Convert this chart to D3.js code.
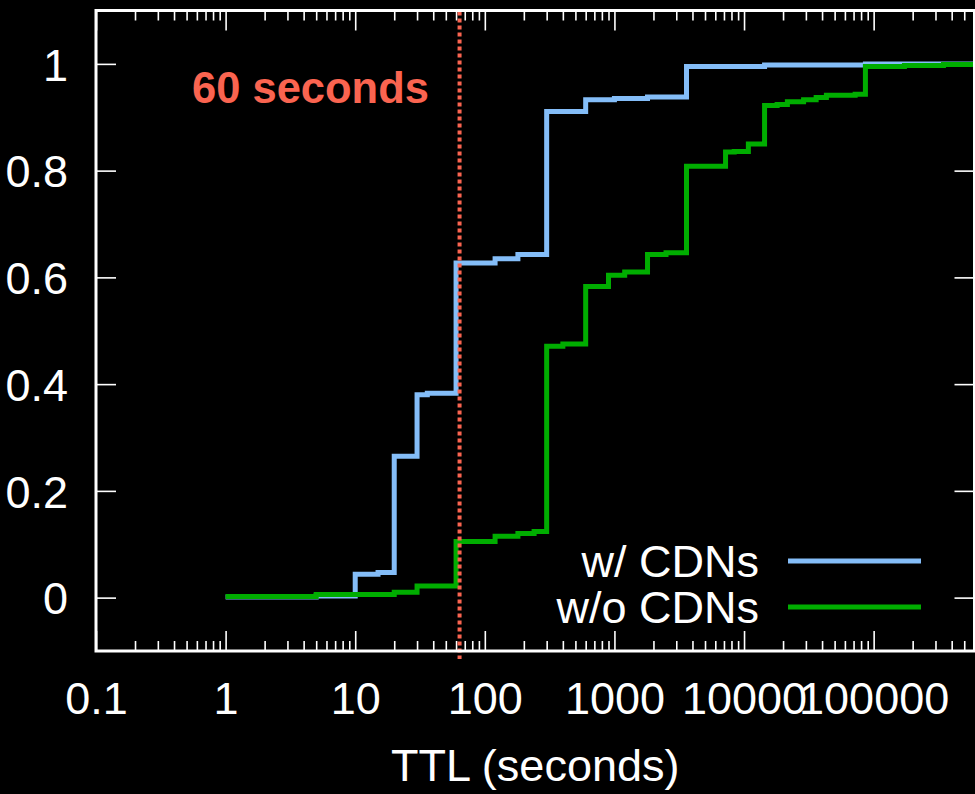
<!DOCTYPE html>
<html>
<head>
<meta charset="utf-8">
<script src="https://cdn.jsdelivr.net/npm/d3@7"></script>
<style>
  html, body { margin: 0; padding: 0; background: #000; }
  svg { display: block; }
  text { font-family: "Liberation Sans", Arial, Helvetica, sans-serif; fill: #fff; }
</style>
</head>
<body>
<svg id="body" width="975" height="794"></svg>
<script>
// TTL CDF
const cdnTTL = [1, 5, 10, 15, 20, 30, 36, 60, 120, 180, 300, 600, 1000, 1800, 3600, 14400, 86400]
const cdnCDF = [0.001, 0.003, 0.044, 0.047, 0.265, 0.380, 0.383, 0.627, 0.635, 0.643, 0.911, 0.933, 0.935, 0.938, 0.995, 0.998, 1.0]
const noCdnTTL = [1, 5, 20, 30, 60, 120, 180, 240, 300, 400, 600, 900, 1200, 1800, 2500, 3600, 7200, 8400, 10800, 14400, 18000, 21600, 28800, 36000, 43200, 72000, 86400, 172800, 345600]
const noCdnCDF = [0.002, 0.006, 0.010, 0.022, 0.105, 0.115, 0.120, 0.124, 0.471, 0.475, 0.583, 0.604, 0.610, 0.643, 0.646, 0.808, 0.835, 0.836, 0.850, 0.922, 0.924, 0.929, 0.933, 0.937, 0.941, 0.943, 0.995, 0.997, 0.999]

const seriesNames = ['w/ CDNs', 'w/o CDNs']
const seriesColors = ['#84bdf8', '#00ad00']

const xTickValues = [0.1, 1, 10, 100, 1000, 10000, 100000]
const xTickLabels = ['0.1', '1', '10', '100', '1000', '10000', '100000']
const yTickValues = [0, 0.2, 0.4, 0.6, 0.8, 1]
const yTickLabels = ['0', '0.2', '0.4', '0.6', '0.8', '1']

const xDomain = [0.1, 600000]
const yDomain = [-0.1, 1.1]
const markerTTL = 60
const markerLabel = '60 seconds'
const xTitle = 'TTL (seconds)'

// Compute layout
let plotLeft = 96, plotRight = 974.5, plotTop = 10.5, plotBottom = 651
let svg = d3.select('#body')

let x = d3.scaleLog(xDomain, [plotLeft, plotRight])
let y = d3.scaleLinear(yDomain, [plotBottom, plotTop])

let minorTicks = []
for (let e = -1; e <= 5; e++) {
    for (let m = 2; m <= 9; m++) {
        let v = m * Math.pow(10, e)
        if (v < xDomain[1]) minorTicks.push(v)
    }
}

svg.append('defs').append('clipPath').attr('id', 'plot-clip')
    .append('rect')
    .attr('x', plotLeft).attr('y', plotTop)
    .attr('width', plotRight - plotLeft).attr('height', plotBottom - plotTop)

// Axes
let styleAxis = (g) => {
    g.select('.domain').remove()
    g.selectAll('line').attr('stroke', '#fff').attr('stroke-width', 1.6)
    g.selectAll('text').style('font-size', '45px').attr('fill', '#fff')
}

svg.append('g')
    .attr('transform', `translate(0,${plotBottom})`)
    .call(d3.axisBottom(x).tickValues(minorTicks).tickSize(-10).tickFormat(''))
    .call(styleAxis)
svg.append('g')
    .attr('transform', `translate(0,${plotBottom})`)
    .call(d3.axisBottom(x).tickValues(xTickValues).tickSize(-20).tickPadding(31)
        .tickFormat((d, i) => {return xTickLabels[i]}))
    .call(styleAxis)
svg.append('g')
    .attr('transform', `translate(0,${plotTop})`)
    .call(d3.axisTop(x).tickValues(minorTicks).tickSize(-10).tickFormat(''))
    .call(styleAxis)
svg.append('g')
    .attr('transform', `translate(0,${plotTop})`)
    .call(d3.axisTop(x).tickValues(xTickValues).tickSize(-20).tickFormat(''))
    .call(styleAxis)

let yAxis = svg.append('g')
    .attr('transform', `translate(${plotLeft},0)`)
    .call(d3.axisLeft(y).tickValues(yTickValues).tickSize(-20).tickPadding(28)
        .tickFormat((d, i) => {return yTickLabels[i]}))
    .call(styleAxis)
yAxis.selectAll('text').attr('dy', '0.36em')
svg.append('g')
    .attr('transform', `translate(${plotRight},0)`)
    .call(d3.axisRight(y).tickValues(yTickValues).tickSize(-20).tickFormat(''))
    .call(styleAxis)

// Draw visualization
let line = d3.line()
    .x((d) => {return x(d[0])})
    .y((d) => {return y(d[1])})
    .curve(d3.curveStepAfter)

let series = [
    cdnTTL.map((t, i) => {return [t, cdnCDF[i]]}),
    noCdnTTL.map((t, i) => {return [t, noCdnCDF[i]]})
]
series.forEach((s) => {s.push([xDomain[1], s[s.length - 1][1]])})

svg.append('g').attr('clip-path', 'url(#plot-clip)')
    .selectAll('path')
    .data(series)
    .join('path')
    .attr('d', line)
    .attr('fill', 'none')
    .attr('stroke', (d, i) => {return seriesColors[i]})
    .attr('stroke-width', 5)
    .attr('stroke-linejoin', 'miter')

// 60 second marker
svg.append('line')
    .attr('x1', x(markerTTL) + 3.5).attr('x2', x(markerTTL) + 3.5)
    .attr('y1', plotTop + 1).attr('y2', plotBottom + 8)
    .attr('stroke', '#fa6450')
    .attr('stroke-width', 4)
    .attr('stroke-dasharray', '4,3')

svg.append('text')
    .attr('x', 192).attr('y', 103)
    .style('font-size', '43.5px')
    .style('font-weight', 'bold')
    .style('fill', '#fa6450')
    .text(markerLabel)

// Frame
svg.append('rect')
    .attr('x', plotLeft).attr('y', plotTop)
    .attr('width', plotRight - plotLeft).attr('height', plotBottom - plotTop)
    .attr('fill', 'none')
    .attr('stroke', '#fff')
    .attr('stroke-width', 3)

// Legend
let legend = svg.append('g')
seriesNames.forEach((name, i) => {
    let ly = 561 + i * 46
    legend.append('text')
        .attr('x', 759).attr('y', ly).attr('dy', '0.36em')
        .attr('text-anchor', 'end')
        .style('font-size', '45px')
        .text(name)
    legend.append('line')
        .attr('x1', 788).attr('x2', 921)
        .attr('y1', ly).attr('y2', ly)
        .attr('stroke', seriesColors[i])
        .attr('stroke-width', 5)
})

// Axis title
svg.append('text')
    .attr('x', (plotLeft + plotRight) / 2).attr('y', 781)
    .attr('text-anchor', 'middle')
    .style('font-size', '45px')
    .text(xTitle)
</script>
</body>
</html>
